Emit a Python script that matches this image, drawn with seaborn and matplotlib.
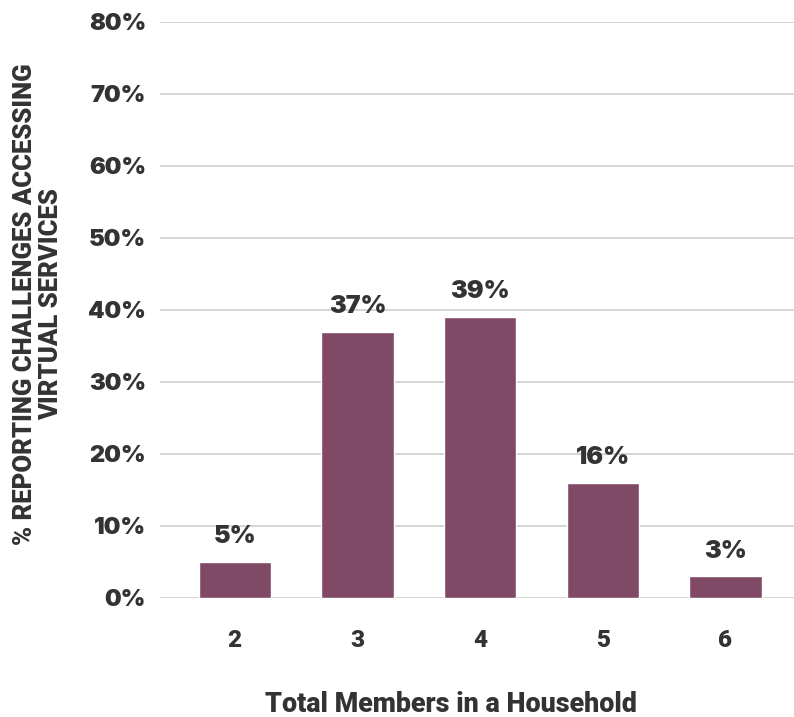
import matplotlib
matplotlib.use("Agg")
import matplotlib.pyplot as plt
import seaborn as sns
import pandas as pd

household_sizes = ["2", "3", "4", "5", "6"]
pct_reporting = [5, 37, 39, 16, 3]
y_ticks = [0, 10, 20, 30, 40, 50, 60, 70, 80]

bar_color = "#804a67"
text_color = "#333333"
num_font = ["Inter", "DejaVu Sans"]
label_font = ["Roboto", "DejaVu Sans"]

sns.set_theme(style="white")
plt.rcParams["font.family"] = num_font

df = pd.DataFrame({"size": household_sizes, "pct": pct_reporting})

fig = plt.figure(figsize=(7.94, 7.17), dpi=100)
ax = fig.add_axes([160 / 794, 1 - 598 / 717, 634 / 794, 576 / 717])

sns.barplot(data=df, x="size", y="pct", color=bar_color, width=0.59,
            saturation=1, ax=ax, zorder=3)

ax.set_ylim(0, 80)
ax.set_xlim(-0.61, 4.56)
ax.set_yticks(y_ticks)
ax.set_yticklabels([f"{v}%" for v in y_ticks], fontsize=17, fontweight="black",
                   color=text_color, fontfamily=num_font)
ax.grid(axis="y", color="#d4d4d4", linewidth=1.4, zorder=0)
ax.set_axisbelow(True)
for s in ax.spines.values():
    s.set_visible(False)
ax.tick_params(axis="y", length=0, pad=10)
ax.tick_params(axis="x", length=0, pad=22)
for lbl in ax.get_xticklabels():
    lbl.set_fontsize(17.5)
    lbl.set_fontweight("black")
    lbl.set_color(text_color)
    lbl.set_fontfamily(label_font)

for i, v in enumerate(pct_reporting):
    ax.annotate(f"{v}%", (i, v), xytext=(0, 10), textcoords="offset points",
                ha="center", va="bottom", fontsize=18, fontweight="black",
                color=text_color, fontfamily=num_font)

ax.set_xlabel("Total Members in a Household", fontsize=19.4, fontweight="black",
              color=text_color, fontfamily=label_font)
ax.xaxis.set_label_coords(0.459, -0.161)
ax.set_ylabel("% REPORTING CHALLENGES ACCESSING\nVIRTUAL SERVICES", fontsize=18.5,
              fontweight="black", color=text_color, linespacing=1.12,
              fontfamily=label_font)
ax.yaxis.set_label_coords(-0.153, 0.5095)

fig.savefig("out.png", dpi=100)
